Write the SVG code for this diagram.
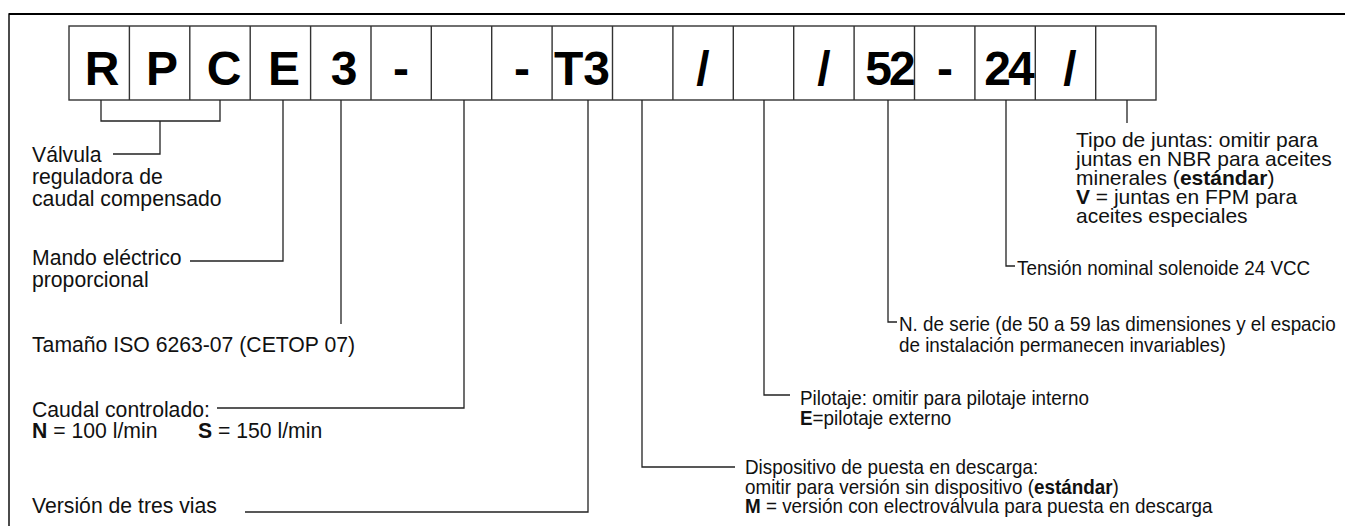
<svg xmlns="http://www.w3.org/2000/svg" width="1345" height="526" viewBox="0 0 1345 526">
  <style>
    .frame { fill: none; stroke: #111; }
    .cell { fill: #fff; stroke: #333; stroke-width: 1.4; }
    .code { font-family: "Liberation Sans", Arial, sans-serif; font-weight: bold; font-size: 48px; fill: #000; text-anchor: middle; }
    .wire { fill: none; stroke: #222; stroke-width: 1.3; }
    .lbl { font-family: "Liberation Sans", Arial, sans-serif; font-size: 21.2px; fill: #111; }
    .lbr { font-family: "Liberation Sans", Arial, sans-serif; font-size: 21px; fill: #111; }
    .nar { font-family: "Liberation Sans", Arial, sans-serif; font-size: 21px; fill: #111; }
    .b { font-weight: bold; }
  </style>

  <rect width="1345" height="526" fill="#fff"/>

  <!-- outer frame (top and left edges) -->
  <path class="frame" d="M9,526 V14 H1345" stroke-width="1.5"/>
  <line x1="9" y1="14" x2="1345" y2="14" stroke="#000" stroke-width="2"/>

  <!-- ordering code cells -->
  <g id="code">
    <rect class="cell" x="69" y="26" width="1087" height="74"/>
    <path class="cell" d="M129.4,26V100 M189.8,26V100 M250.2,26V100 M310.6,26V100 M371,26V100 M431.3,26V100 M491.7,26V100 M552.1,26V100 M612.5,26V100 M672.9,26V100 M733.3,26V100 M793.7,26V100 M854.1,26V100 M914.5,26V100 M974.9,26V100 M1035.3,26V100 M1095.7,26V100"/>
    <text class="code" x="102" y="85">R</text>
    <text class="code" x="162" y="85">P</text>
    <text class="code" x="224" y="85">C</text>
    <text class="code" x="284" y="85">E</text>
    <text class="code" x="344" y="85">3</text>
    <text class="code" x="401" y="85">-</text>
    <text class="code" x="522" y="85">-</text>
    <text class="code" x="582" y="85">T3</text>
    <text class="code" x="703" y="85">/</text>
    <text class="code" x="824" y="85">/</text>
    <text class="code" x="889" y="85" letter-spacing="-3">52</text>
    <text class="code" x="945" y="85">-</text>
    <text class="code" x="1008" y="85" letter-spacing="-3">24</text>
    <text class="code" x="1070" y="85">/</text>
  </g>

  <!-- leader lines -->
  <g id="connectors">
    <path class="wire" d="M101,100 V121 H220 V100"/>
    <path class="wire" d="M160,121 V154 H113"/>
    <path class="wire" d="M283,100 V261 H190"/>
    <path class="wire" d="M341,100 V324"/>
    <path class="wire" d="M464,100 V408 H217"/>
    <path class="wire" d="M588,100 V512 H245"/>
    <path class="wire" d="M642,100 V467 H735"/>
    <path class="wire" d="M764,100 V395 H790"/>
    <path class="wire" d="M888,100 V322 H897"/>
    <path class="wire" d="M1006,100 V266 H1015"/>
    <path class="wire" d="M1127,100 V123"/>
  </g>

  <g id="n-valvula">
    <text class="lbl" x="32" y="162">Válvula</text>
    <text class="lbl" x="32" y="184">reguladora de</text>
    <text class="lbl" x="32" y="206">caudal compensado</text>
  </g>
  <g id="n-mando">
    <text class="lbl" x="32" y="265">Mando eléctrico</text>
    <text class="lbl" x="32" y="287">proporcional</text>
  </g>
  <g id="n-tamano">
    <text class="lbl" x="32" y="352">Tamaño ISO 6263-07 (CETOP 07)</text>
  </g>
  <g id="n-caudal">
    <text class="lbl" x="32" y="417">Caudal controlado:</text>
    <text class="lbl" x="32" y="438"><tspan class="b">N</tspan> = 100 l/min</text>
    <text class="lbl" x="198" y="438"><tspan class="b">S</tspan> = 150 l/min</text>
  </g>
  <g id="n-version">
    <text class="lbl" x="32" y="513">Versión de tres vias</text>
  </g>

  <g id="n-dispositivo">
    <text class="nar" transform="translate(745,474) scale(0.898,1)">
      <tspan x="0" y="0">Dispositivo de puesta en descarga:</tspan>
      <tspan x="0" y="20">omitir para versión sin dispositivo (<tspan class="b">estándar</tspan>)</tspan>
      <tspan x="0" y="39"><tspan class="b">M</tspan> = versión con electroválvula para puesta en descarga</tspan>
    </text>
  </g>
  <g id="n-pilotaje">
    <text class="nar" transform="translate(800,405) scale(0.898,1)">
      <tspan x="0" y="0">Pilotaje: omitir para pilotaje interno</tspan>
      <tspan x="0" y="20"><tspan class="b">E</tspan>=pilotaje externo</tspan>
    </text>
  </g>
  <g id="n-serie">
    <text class="nar" transform="translate(899,331) scale(0.898,1)">
      <tspan x="0" y="0">N. de serie (de 50 a 59 las dimensiones y el espacio</tspan>
      <tspan x="0" y="21">de instalación permanecen invariables)</tspan>
    </text>
  </g>
  <g id="n-tension">
    <text class="nar" transform="translate(1017,275) scale(0.898,1)">Tensión nominal solenoide 24 VCC</text>
  </g>
  <g id="n-juntas">
    <text class="lbr" x="1076" y="147">Tipo de juntas: omitir para</text>
    <text class="lbr" x="1076" y="166">juntas en NBR para aceites</text>
    <text class="lbr" x="1076" y="185">minerales (<tspan class="b">estándar</tspan>)</text>
    <text class="lbr" x="1076" y="204"><tspan class="b">V</tspan> = juntas en FPM para</text>
    <text class="lbr" x="1076" y="223">aceites especiales</text>
  </g>
</svg>
